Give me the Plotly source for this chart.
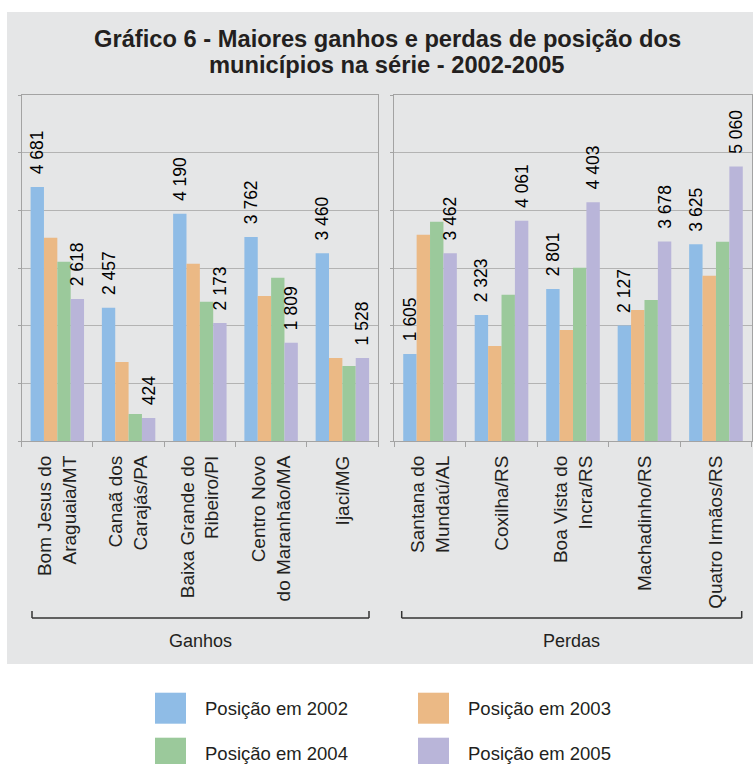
import plotly.graph_objects as go

# ---------------- data ----------------
ganhos_cats = ["Bom Jesus do<br>Araguaia/MT", "Canaã dos<br>Carajás/PA",
               "Baixa Grande do<br>Ribeiro/PI", "Centro Novo<br>do Maranhão/MA", "Ijaci/MG"]
perdas_cats = ["Santana do<br>Mundaú/AL", "Coxilha/RS", "Boa Vista do<br>Incra/RS",
               "Machadinho/RS", "Quatro Irmãos/RS"]

series_names = ["Posição em 2002", "Posição em 2003", "Posição em 2004", "Posição em 2005"]
series_colors = ["#8fbce6", "#ebb985", "#9bc99b", "#b9b5d9"]
labelled_series = [True, False, False, True]

ganhos_2002 = [4681, 2457, 4190, 3762, 3460]
ganhos_2003 = [3746, 1458, 3266, 2675, 1531]
ganhos_2004 = [3303, 498, 2565, 3007, 1384]
ganhos_2005 = [2618, 424, 2173, 1809, 1528]

perdas_2002 = [1605, 2323, 2801, 2127, 3625]
perdas_2003 = [3800, 1753, 2048, 2417, 3044]
perdas_2004 = [4040, 2694, 3192, 2601, 3672]
perdas_2005 = [3462, 4061, 4403, 3678, 5060]

group_labels = ["Ganhos", "Perdas"]
title_lines = ["Gráfico 6 - Maiores ganhos e perdas de posição dos",
               "municípios na série - 2002-2005"]

# ---------------- layout helpers ----------------
W, H = 753, 764
def px(x):
    return x / W
def py(y):
    return 1 - y / H

FONT = "Liberation Sans, Arial, sans-serif"
TXT = "#231f20"
GRID_STEP = 1063

def fmt(v):
    return "\u00a0\u00a0" + f"{v:,}".replace(",", " ")

fig = go.Figure()

panels = [
    (ganhos_cats, [ganhos_2002, ganhos_2003, ganhos_2004, ganhos_2005], "x", "y"),
    (perdas_cats, [perdas_2002, perdas_2003, perdas_2004, perdas_2005], "x2", "y2"),
]
for cats, vals, xa, ya in panels:
    for i, v in enumerate(vals):
        fig.add_trace(go.Bar(
            x=cats, y=v, xaxis=xa, yaxis=ya,
            name=series_names[i], marker_color=series_colors[i],
            marker_line_width=0, showlegend=False,
            text=[fmt(t) for t in v] if labelled_series[i] else None,
            textposition="outside" if labelled_series[i] else "none",
            textangle=-90, constraintext="none", cliponaxis=False,
            textfont=dict(size=17.5, color="#000000", family=FONT),
        ))

axis_common_x = dict(
    showline=True, mirror=True, linecolor="#a3a3a3", linewidth=1.2,
    ticks="outside", tickson="boundaries", ticklen=5, tickcolor="#a3a3a3",
    tickangle=-90, tickfont=dict(size=19, color=TXT, family=FONT),
    ticklabelstandoff=6, showgrid=False, fixedrange=True,
)
axis_common_y = dict(
    range=[0, 6 * GRID_STEP], tick0=0, dtick=GRID_STEP,
    showticklabels=False, ticks="outside", ticklen=3, tickcolor="#a3a3a3",
    showgrid=True, gridcolor="#b3b3b3", gridwidth=1.3,
    showline=True, mirror=True, linecolor="#a3a3a3", linewidth=1.2,
    zeroline=False, fixedrange=True,
)

fig.update_layout(
    width=W, height=H, autosize=False,
    margin=dict(l=0, r=0, t=0, b=0),
    paper_bgcolor="white", plot_bgcolor="white",
    barmode="group", bargap=0.25, bargroupgap=0,
    font=dict(family=FONT, color=TXT),
    xaxis=dict(domain=[px(21.7), px(378)], anchor="y", **axis_common_x),
    xaxis2=dict(domain=[px(394.3), px(751.7)], anchor="y2", **axis_common_x),
    yaxis=dict(domain=[py(441), py(95)], anchor="x", **axis_common_y),
    yaxis2=dict(domain=[py(441), py(95)], anchor="x2", **axis_common_y),
)

shapes = []
annotations = []
# grey background
shapes.append(dict(type="rect", xref="paper", yref="paper", layer="below",
                   x0=px(7), x1=px(753), y0=py(664), y1=py(12),
                   fillcolor="#e5e6e7", line=dict(width=0)))

# title
for k, (line, yc) in enumerate(zip(title_lines, [39, 65])):
    annotations.append(dict(text=f"<b>{line}</b>", xref="paper", yref="paper",
                            x=px(387), y=py(yc), xanchor="center", yanchor="middle",
                            showarrow=False, font=dict(size=23.7, color=TXT, family=FONT)))

# group brackets
brackets = [(32, 369, 200), (401.7, 741.7, 571.7)]
for (x0, x1, xc), lab in zip(brackets, group_labels):
    for seg in [(x0, 618, x1, 618), (x0, 611, x0, 618), (x1, 611, x1, 618)]:
        shapes.append(dict(type="line", xref="paper", yref="paper",
                           x0=px(seg[0]), y0=py(seg[1]), x1=px(seg[2]), y1=py(seg[3]),
                           line=dict(color="#333333", width=1.5)))
    annotations.append(dict(text=lab, xref="paper", yref="paper",
                            x=px(xc), y=py(641), xanchor="center", yanchor="middle",
                            showarrow=False, font=dict(size=18, color=TXT, family=FONT)))

# custom legend
leg_sq_x = [155, 418]
leg_txt_x = [203, 466]
leg_row_y = [692.7, 737.7]
for i, (nm, col) in enumerate(zip(series_names, series_colors)):
    c, r = i % 2, i // 2
    x0, y0 = leg_sq_x[c], leg_row_y[r]
    shapes.append(dict(type="rect", xref="paper", yref="paper",
                       x0=px(x0), x1=px(x0 + 31), y0=py(y0 + 31), y1=py(y0),
                       fillcolor=col, line=dict(width=0)))
    annotations.append(dict(text=nm, xref="paper", yref="paper",
                            x=px(leg_txt_x[c]), y=py(y0 + 15.5), xanchor="left", yanchor="middle",
                            showarrow=False, font=dict(size=18.5, color=TXT, family=FONT)))

fig.update_layout(shapes=shapes, annotations=annotations)
fig.write_html("out.html",
               config={"displayModeBar": False},
               post_script="document.body.style.margin='0';document.body.style.padding='0';"
                           "document.documentElement.style.overflow='hidden';")
